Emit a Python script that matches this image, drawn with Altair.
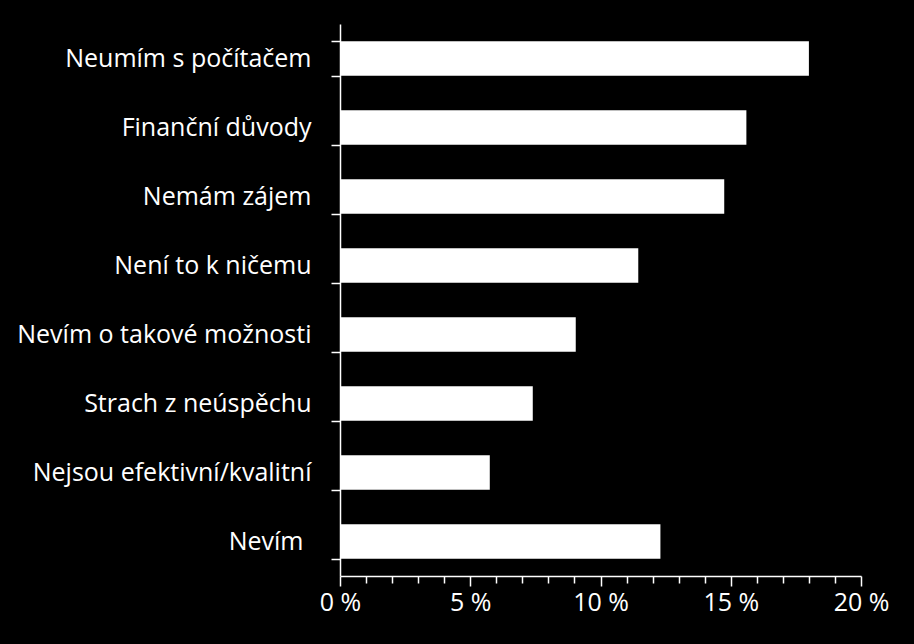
import altair as alt
import pandas as pd

categories = ["Neumím s počítačem", "Finanční důvody", "Nemám zájem", "Není to k ničemu",
              "Nevím o takové možnosti", "Strach z neúspěchu", "Nejsou efektivní/kvalitní", "Nevím "]
values = [18.0, 15.6, 14.75, 11.45, 9.05, 7.4, 5.75, 12.3]
tick_values = list(range(0, 21))

df = pd.DataFrame({"cat": categories, "val": values})

FONT = "Open Sans"

chart = alt.Chart(df).mark_bar(color="white").encode(
    x=alt.X("val:Q", scale=alt.Scale(domain=[0, 20], nice=False),
            axis=alt.Axis(values=tick_values, title=None, grid=False,
                          labelExpr="datum.value % 5 == 0 ? datum.value + ' %' : ''",
                          tickSize={"condition": {"test": "datum.value % 5 == 0", "value": 10}, "value": 7},
                          labelFontSize=25, labelFont=FONT, labelColor="white",
                          labelFontWeight="normal",
                          labelPadding=4, domainColor="white", tickColor="white",
                          domainWidth=1.5, tickWidth=1.5, labelFlush=False)),
    y=alt.Y("cat:N", sort=categories,
            scale=alt.Scale(paddingInner=0.5, paddingOuter=0.25),
            axis=alt.Axis(title=None, tickBand="extent", tickSize=9,
                          labelPadding={"condition": {"test": "datum.value == 'Nevím '", "value": 28}, "value": 20},
                          labelFontSize=25, labelFont=FONT, labelColor="white",
                          labelFontWeight="normal",
                          domainColor="white", tickColor="white",
                          domainWidth=1.5, tickWidth=1.5, labelLimit=400)),
).properties(
    width=521, height=552,
    background="black",
    autosize=alt.AutoSizeParams(type="none"),
    padding={"left": 340, "top": 24, "right": 53, "bottom": 68},
).configure_view(stroke=None)

chart.save("out.html", embed_options={"renderer": "svg", "actions": False})
